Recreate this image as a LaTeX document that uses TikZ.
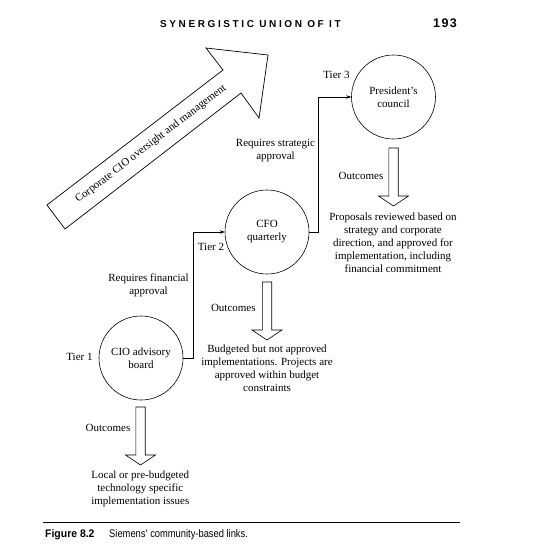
\documentclass[tikz,border=0pt]{standalone}
\usepackage{fontspec}
\setmainfont{Liberation Serif}
\newfontfamily\hdrfont[LetterSpace=26]{Liberation Sans}
\newfontfamily\numfont[LetterSpace=12]{Liberation Sans}
\newfontfamily\capfont[FakeStretch=0.85]{Liberation Sans}
\newfontfamily\capbfont[FakeStretch=0.95]{Liberation Sans}
\usetikzlibrary{arrows.meta}
\tikzset{
  txt/.style={font=\fontsize{11}{13}\selectfont, inner sep=0pt, align=center},
  tier/.style={circle, draw, line width=0.6pt, minimum size=84pt, inner sep=0pt,
    font=\fontsize{11}{13}\selectfont, align=center},
  link/.style={line width=0.6pt, -{Stealth[length=5pt,width=3.5pt]}},
  outarrow/.pic={\draw[line width=0.6pt] (-4.7,0) -- (-4.7,48) -- (-15,48) -- (0,58)
     -- (15,48) -- (4.7,48) -- (4.7,0) -- cycle;}
}
\begin{document}
\begin{tikzpicture}[x=1pt,y=-1pt]
\useasboundingbox (0,0) rectangle (544,554);
% header
\node[anchor=west, inner sep=0pt] (hdr) at (160,24) {\hdrfont\bfseries\fontsize{10}{12}\selectfont SYNERGISTIC UNION OF IT};
\node[inner sep=0pt] (page) at (445,23) {\numfont\bfseries\fontsize{12.5}{14}\selectfont 193};
% big arrow
\draw[line width=0.7pt] (47,205) -- (223,70) -- (206,48) -- (268,55) -- (259,118)
   -- (241,93) -- (65,229) -- cycle;
\node[txt, rotate=37.5] (bigtxt) at (151,144) {Corporate CIO oversight and management};
% tiers
\node[tier] (pres) at (393.5,97) {President’s\\council};
\node[tier] (cfo) at (267,232) {CFO\\quarterly};
\node[tier] (cio) at (141,358) {CIO advisory\\board};
% links
\draw[link] (cio.east) -- ++(10,0) |- (cfo.west);
\draw[link] (cfo.east) -- ++(9,0) |- (pres.west);
% labels
\node[txt] (t3) at (336.5,75) {Tier 3};
\node[txt] (t2) at (211,247) {Tier 2};
\node[txt] (t1) at (79.5,357) {Tier 1};
\node[txt] (rs) at (275.5,151) {Requires strategic\\approval};
\node[txt] (rf) at (148.5,285) {Requires financial\\approval};
% outcomes
\pic at (393.5,148) {outarrow};
\pic at (267,282) {outarrow};
\pic at (140.5,407) {outarrow};
\node[txt] (o3) at (361,176) {Outcomes};
\node[txt] (o2) at (233.3,308) {Outcomes};
\node[txt] (o1) at (108,428) {Outcomes};
\node[txt] (r3) at (393,243) {Proposals reviewed based on\\strategy and corporate\\direction, and approved for\\implementation, including\\financial commitment};
\node[txt] (r2) at (267,368.5) {Budgeted but not approved\\implementations. Projects are\\approved within budget\\constraints};
\node[txt] (r1) at (140.3,489) {Local or pre-budgeted\\technology specific\\implementation issues};
% caption
\draw[line width=0.8pt] (43,522) -- (460,522);
\node[anchor=base west, inner sep=0pt] (figno) at (45,537) {\capbfont\bfseries\fontsize{11}{13}\selectfont Figure 8.2};
\node[anchor=base west, inner sep=0pt] (figcap) at (109,537) {\capfont\fontsize{11}{13}\selectfont Siemens\textquotesingle\ community-based links.};
\end{tikzpicture}
\end{document}
